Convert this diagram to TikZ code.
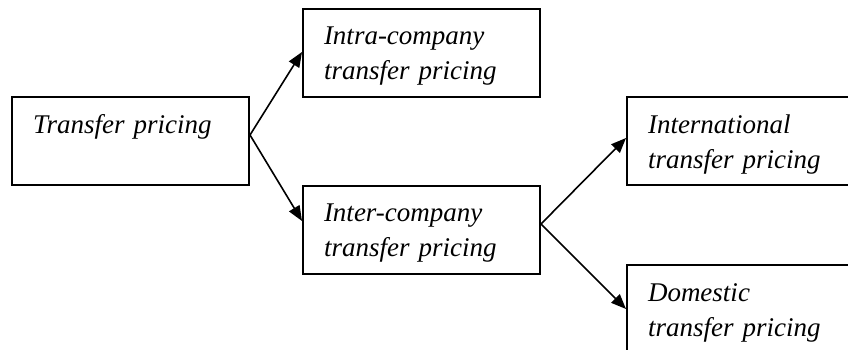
\documentclass[tikz,border=0pt]{standalone}
\usepackage{fontspec}
\setmainfont{Liberation Serif}[ItalicFont={Liberation Serif Italic}]
\usetikzlibrary{arrows.meta, positioning}

\begin{document}
\begin{tikzpicture}[
    x=1pt, y=-1pt,
    node distance=52pt and 52pt,
    pricebox/.style={rectangle, draw=black, line width=2pt, text width=195pt, align=left, inner xsep=21pt, inner ysep=0pt, text height=36pt, text depth=52pt, font=\fontsize{27}{35}\selectfont\itshape},
    arrow/.style={line width=1.6pt, -{Triangle[length=15pt, width=12pt]}, draw=black}
]

\useasboundingbox (0,0) rectangle (848,350);
\clip (0,0) rectangle (848,350);

\node (transfer) [pricebox] at (130.5,141) {Transfer pricing};
\node (intra) [pricebox, right=of transfer, yshift=88pt] {Intra-company\\transfer pricing};
\node (inter) [pricebox, right=of transfer, yshift=-88.5pt] {Inter-company\\transfer pricing};
\node (intl) [pricebox, right=85pt of inter, yshift=88.5pt] {International\\transfer pricing};
\node (domestic) [pricebox, right=85pt of inter, yshift=-79.5pt] {Domestic\\transfer pricing};

\draw [arrow] ([yshift=6pt]transfer.east) -- ([yshift=1pt]intra.west);
\draw [arrow] ([yshift=6pt]transfer.east) -- ([yshift=8.5pt]inter.west);
\draw [arrow] ([yshift=5.5pt]inter.east) -- ([yshift=3pt]intl.west);
\draw [arrow] ([yshift=5.5pt]inter.east) -- (domestic.west);

\end{tikzpicture}
\end{document}
